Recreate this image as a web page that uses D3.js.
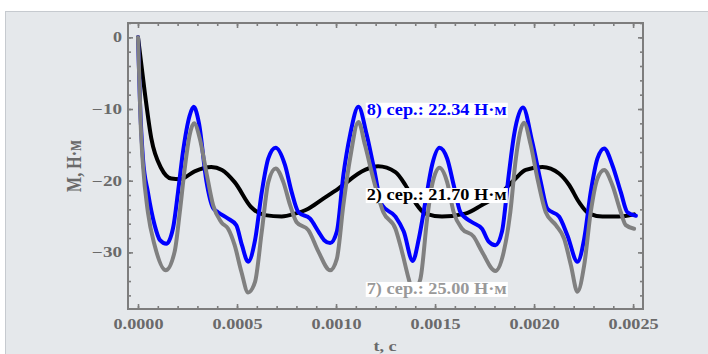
<!DOCTYPE html>
<html>
<head>
<meta charset="utf-8">
<script src="https://cdn.jsdelivr.net/npm/d3@7"></script>
<style>
  html, body { margin: 0; padding: 0; background: #ffffff; }
  svg { display: block; }
  text { font-family: "Liberation Serif", "Times New Roman", serif; font-weight: bold; }
</style>
</head>
<body>
<svg id="chart" width="708" height="354"></svg>
<script>
// Torque M (Н·м) over time t (с) for three variants

// variant 8 (blue)
const t8 = [0, 0.00001, 0.000025, 0.00005, 0.000084, 0.000111, 0.000143, 0.000177, 0.000202, 0.000227,
  0.000261, 0.000281, 0.000308, 0.000345, 0.000379, 0.000404, 0.000455, 0.000496, 0.000525, 0.000556,
  0.000591, 0.000625, 0.000658, 0.000695, 0.000742, 0.000776, 0.00081, 0.000869, 0.000911, 0.00094,
  0.00097, 0.001004, 0.001037, 0.001071, 0.001113, 0.001155, 0.001188, 0.001232, 0.0013, 0.001342,
  0.001387, 0.001418, 0.001451, 0.001485, 0.001522, 0.001561, 0.001594, 0.001628, 0.001687, 0.001737,
  0.001771, 0.001805, 0.001838, 0.001872, 0.001899, 0.001944, 0.001991, 0.002034, 0.002067, 0.002126,
  0.002168, 0.002219, 0.002253, 0.002286, 0.00232, 0.002354, 0.002395, 0.002438, 0.002471, 0.002514];
const m8 = [0, -9.0, -16.9, -21.6, -26.2, -28.3, -28.8, -26.6, -21.6, -16.0,
  -10.9, -9.7, -12.0, -20.0, -23.8, -24.4, -25.3, -26.2, -29.0, -31.3,
  -28.3, -21.6, -16.9, -15.4, -17.8, -21.6, -24.4, -25.3, -27.1, -28.3,
  -28.7, -27.1, -19.2, -13.6, -9.7, -13.6, -17.8, -23.4, -25.0, -27.1,
  -31.2, -28.1, -23.0, -17.8, -15.4, -16.9, -20.6, -24.4, -25.8, -26.7,
  -28.5, -29.0, -27.1, -19.2, -13.6, -9.8, -14.6, -20.2, -23.9, -25.0,
  -27.6, -31.3, -28.1, -21.6, -16.9, -15.5, -17.8, -21.6, -24.4, -24.9];

// variant 7 (gray)
const t7 = [0, 0.0000136, 0.000025, 0.00005, 0.000084, 0.00014, 0.000185, 0.000211, 0.000236, 0.000261,
  0.000283, 0.000312, 0.000345, 0.000379, 0.000421, 0.000455, 0.000488, 0.000522, 0.000556, 0.000591,
  0.000625, 0.000658, 0.000695, 0.000734, 0.000768, 0.000801, 0.00086, 0.000911, 0.00097, 0.001004,
  0.001037, 0.001071, 0.001113, 0.001146, 0.001188, 0.001239, 0.0013, 0.001333, 0.001367, 0.001389,
  0.001426, 0.00146, 0.001485, 0.001522, 0.001561, 0.001594, 0.001636, 0.001695, 0.001737, 0.001805,
  0.001847, 0.00188, 0.001908, 0.001949, 0.001983, 0.002017, 0.002059, 0.00211, 0.002152, 0.002186,
  0.002219, 0.002253, 0.002286, 0.00232, 0.002354, 0.002395, 0.002438, 0.002463, 0.002505];
const m7 = [0, -12.2, -17.8, -24.4, -29.0, -32.5, -29.9, -24.4, -18.3, -13.6,
  -12.0, -14.1, -18.8, -23.4, -25.8, -26.7, -29.0, -32.7, -35.6, -34.1,
  -27.1, -20.2, -18.3, -20.2, -23.4, -25.8, -26.9, -29.9, -32.5, -30.9,
  -23.4, -16.9, -11.8, -15.0, -19.7, -24.4, -26.7, -29.9, -33.7, -35.6,
  -33.7, -25.3, -20.6, -18.2, -20.2, -24.4, -26.7, -27.8, -29.9, -32.6,
  -29.9, -24.4, -16.9, -11.9, -15.0, -19.7, -24.4, -26.2, -28.1, -31.8,
  -35.5, -31.8, -24.4, -19.7, -18.5, -20.6, -24.4, -26.2, -26.7];

// variant 2 (black)
const t2 = [0, 0.0000338, 0.0000672, 0.000118, 0.000168, 0.000212, 0.000286, 0.00037, 0.000424, 0.000488,
  0.000572, 0.000641, 0.000726, 0.000793, 0.00086, 0.000925, 0.001012, 0.001146, 0.001212, 0.0013,
  0.00135, 0.001399, 0.001451, 0.001535, 0.001653, 0.001737, 0.001822, 0.001899, 0.001958, 0.002042,
  0.002126, 0.002177, 0.002227, 0.002278, 0.002345, 0.002429, 0.002505];
const m2 = [0, -7.6, -14.1, -18.3, -19.7, -19.8, -18.7, -18.1, -18.5, -20.2,
  -23.7, -24.8, -25.0, -24.6, -23.9, -22.7, -21.1, -18.5, -18.0, -18.8,
  -20.6, -23.0, -24.6, -25.0, -24.6, -23.4, -22.0, -19.9, -18.5, -18.1,
  -19.0, -20.6, -23.0, -24.6, -25.0, -25.0, -24.7];

const xTicks = [0, 0.0005, 0.001, 0.0015, 0.002, 0.0025];
const yTicks = [0, -10, -20, -30];
const labels = ["8) сер.: 22.34 Н·м", "2) сер.: 21.70 Н·м", "7) сер.: 25.00 Н·м"];
const labelAt = [[0.00115, -10.8], [0.00115, -22.7], [0.00115, -35.8]];
const seriesColor = ["#0000ff", "#000000", "#999999"];

const svg = d3.select("#chart");
const W = 708, H = 354;
const frame = { left: 128, right: 643, top: 23, bottom: 309 };

// stretch text horizontally to a set width (wide typesetting of the figure)
function fitWidth(sel, widthOf) {
  sel.each(function (d, i) {
    d3.select(this).attr("textLength", widthOf(this.textContent)).attr("lengthAdjust", "spacingAndGlyphs");
  });
}

// panel background
svg.append("rect").attr("x", 0).attr("y", 0).attr("width", W).attr("height", H).attr("fill", "#ffffff");
svg.append("rect").attr("x", 5.5).attr("y", 11.5).attr("width", W).attr("height", H)
  .attr("fill", "#e5e8eb").attr("stroke", "#c6cacf").attr("stroke-width", 1);

const x = d3.scaleLinear().domain([-0.0000505, 0.00255]).range([frame.left, frame.right]);
const y = d3.scaleLinear().domain([2, -37.9]).range([frame.top, frame.bottom]);

const xMinor = d3.range(0, 0.00255, 0.0001);
const yMinor = d3.range(-36, 2.1, 2);
const axisColor = "#7d7d7d";

function styleAxis(g) {
  g.select(".domain").remove();
  g.selectAll(".tick line").attr("stroke", axisColor).attr("stroke-width", 1.6);
}

// minor ticks on all four sides
svg.append("g").attr("transform", `translate(0,${frame.bottom})`)
  .call(d3.axisBottom(x).tickValues(xMinor).tickSizeInner(-3).tickSizeOuter(0).tickFormat(""))
  .call(styleAxis);
svg.append("g").attr("transform", `translate(0,${frame.top})`)
  .call(d3.axisTop(x).tickValues(xMinor).tickSizeInner(-3).tickSizeOuter(0).tickFormat(""))
  .call(styleAxis);
svg.append("g").attr("transform", `translate(${frame.left},0)`)
  .call(d3.axisLeft(y).tickValues(yMinor).tickSizeInner(-3).tickSizeOuter(0).tickFormat(""))
  .call(styleAxis);
svg.append("g").attr("transform", `translate(${frame.right},0)`)
  .call(d3.axisRight(y).tickValues(yMinor).tickSizeInner(-3).tickSizeOuter(0).tickFormat(""))
  .call(styleAxis);

// major ticks with labels
const gx = svg.append("g").attr("transform", `translate(0,${frame.bottom})`)
  .call(d3.axisBottom(x).tickValues(xTicks).tickSizeInner(-5).tickSizeOuter(0)
    .tickPadding(10).tickFormat(d3.format(".4f")))
  .call(styleAxis);
svg.append("g").attr("transform", `translate(0,${frame.top})`)
  .call(d3.axisTop(x).tickValues(xTicks).tickSizeInner(-5).tickSizeOuter(0).tickFormat(""))
  .call(styleAxis);
const gy = svg.append("g").attr("transform", `translate(${frame.left},0)`)
  .call(d3.axisLeft(y).tickValues(yTicks).tickSizeInner(-5).tickSizeOuter(0)
    .tickPadding(6).tickFormat(d3.format("d")))
  .call(styleAxis);
svg.append("g").attr("transform", `translate(${frame.right},0)`)
  .call(d3.axisRight(y).tickValues(yTicks).tickSizeInner(-5).tickSizeOuter(0).tickFormat(""))
  .call(styleAxis);

[gx, gy].forEach(g => {
  g.selectAll(".tick text")
    .attr("fill", "#6a6a6a")
    .style("font-family", "'Liberation Serif', serif")
    .style("font-weight", "bold")
    .style("font-size", "14px");
});
gx.selectAll(".tick text").call(fitWidth, () => 50);
gy.selectAll(".tick text").call(fitWidth, s => s.length === 1 ? 9 : 30);

// curves
svg.append("clipPath").attr("id", "plot-clip")
  .append("rect").attr("x", frame.left).attr("y", frame.top)
  .attr("width", frame.right - frame.left).attr("height", frame.bottom - frame.top);

const line = d3.line().x(d => x(d[0])).y(d => y(d[1])).curve(d3.curveMonotoneX);
const plot = svg.append("g").attr("clip-path", "url(#plot-clip)");

const series = [
  { t: t2, m: m2, color: "#000000" },
  { t: t8, m: m8, color: "#0000ff" },
  { t: t7, m: m7, color: "#808080" }
];
series.forEach(s => {
  plot.append("path")
    .datum(d3.zip(s.t, s.m))
    .attr("fill", "none")
    .attr("stroke", s.color)
    .attr("stroke-width", 4)
    .attr("stroke-linejoin", "round")
    .attr("stroke-linecap", "round")
    .attr("d", line);
});

// frame
svg.append("rect")
  .attr("x", frame.left).attr("y", frame.top)
  .attr("width", frame.right - frame.left).attr("height", frame.bottom - frame.top)
  .attr("fill", "none").attr("stroke", axisColor).attr("stroke-width", 2);

// mean-value annotations on white boxes
labels.forEach((txt, i) => {
  const g = svg.append("g");
  const tx = g.append("text")
    .attr("x", x(labelAt[i][0]) + 1)
    .attr("y", y(labelAt[i][1]))
    .attr("fill", seriesColor[i])
    .style("font-size", "16px")
    .text(txt)
    .call(fitWidth, () => 140);
  const bb = tx.node().getBBox();
  g.insert("rect", "text")
    .attr("x", bb.x - 1).attr("y", bb.y + 2)
    .attr("width", bb.width + 2).attr("height", bb.height - 3)
    .attr("fill", "#ffffff");
});

// axis titles
svg.append("text")
  .attr("transform", `translate(81,166) scale(1.3,1) rotate(-90)`)
  .attr("text-anchor", "middle")
  .attr("fill", "#6a6a6a")
  .style("font-size", "16px")
  .text("M, Н·м");

svg.append("text")
  .attr("transform", `translate(385,351) scale(1.3,1)`)
  .attr("text-anchor", "middle")
  .attr("fill", "#6a6a6a")
  .style("font-size", "14px")
  .text("t, с");
</script>
</body>
</html>
